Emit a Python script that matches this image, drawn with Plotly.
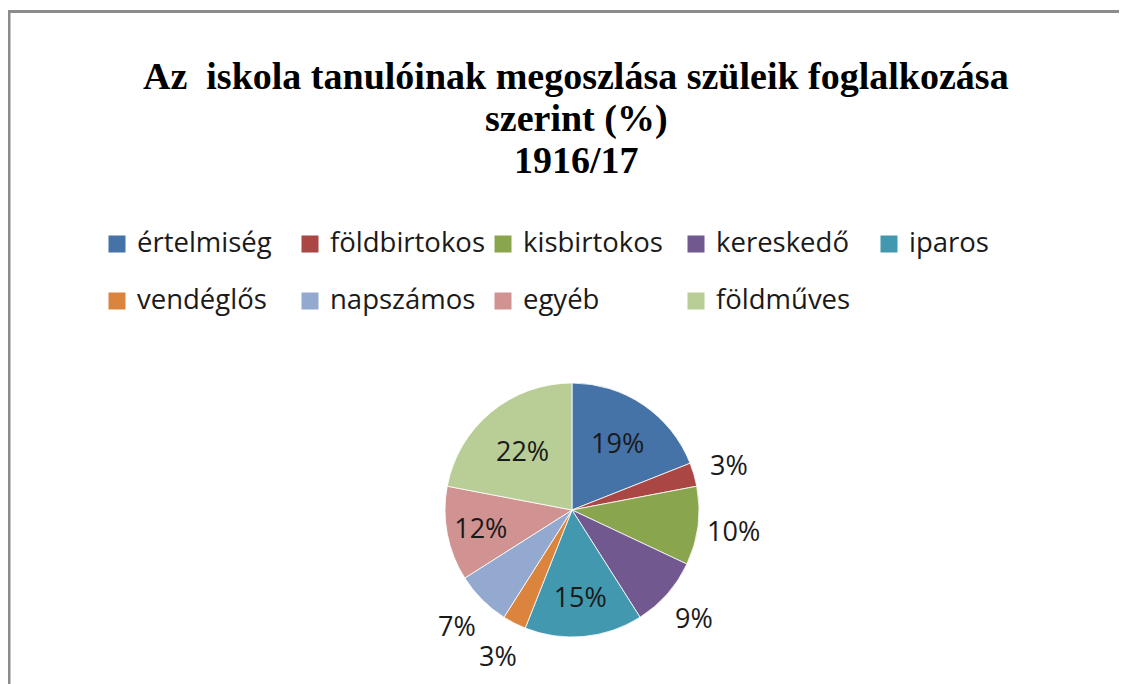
import math
import plotly.graph_objects as go

# ---- data ----
categories = ["értelmiség", "földbirtokos", "kisbirtokos", "kereskedő", "iparos",
              "vendéglős", "napszámos", "egyéb", "földműves"]
values = [19, 3, 10, 9, 15, 3, 7, 12, 22]
colors = ["#4572A7", "#AA4643", "#89A54E", "#71588F", "#4198AF",
          "#DB843D", "#93A9CF", "#D19392", "#B9CD96"]
label_inside = [True, False, False, False, True, False, False, True, True]
title_lines = ["Az  iskola tanulóinak megoszlása szüleik foglalkozása",
               "szerint (%)", "1916/17"]

# page has an 8px body margin; figure fills the rest of the window
OFF = 8
FW, FH = 1127 - OFF, 684 - OFF
SANS = "Open Sans, Lato, Liberation Sans, sans-serif"
SERIF = "Liberation Serif, Times New Roman, serif"
TXT = "#1a1a1a"

def px_x(xp):
    return (xp - OFF) / FW

def px_y(yp):
    return 1 - (yp - OFF) / FH

# pie geometry (page pixels)
CX, CY, R = 572, 510, 127

legend_labels = [f'<span style="font-size:27.5px">{c}</span><br> ' for c in categories]
positions = ["inside" if ins else "none" for ins in label_inside]

fig = go.Figure()
# legend-only twin of the pie (drawn at zero size), giving larger legend swatches
fig.add_trace(go.Pie(
    labels=legend_labels,
    values=values,
    sort=False,
    direction="clockwise",
    marker=dict(colors=colors, line=dict(color=colors, width=5)),
    textinfo="none",
    domain=dict(x=[px_x(CX), px_x(CX) + 0.0001], y=[px_y(CY), px_y(CY) + 0.0001]),
    hoverinfo="skip",
    showlegend=True,
))
# the visible pie
fig.add_trace(go.Pie(
    labels=legend_labels,
    values=values,
    sort=False,
    direction="clockwise",
    rotation=0,
    marker=dict(colors=colors, line=dict(color="rgba(255,255,255,0.8)", width=1)),
    textinfo="percent",
    textposition=positions,
    insidetextorientation="horizontal",
    textfont=dict(family=SANS, size=27, color=TXT),
    domain=dict(x=[px_x(CX - R), px_x(CX + R)], y=[px_y(CY + R), px_y(CY - R)]),
    hoverinfo="value+percent",
    showlegend=False,
))

# outside percentage labels, placed radially from each slice's mid-angle
total = sum(values)
cum = 0
for v, ins in zip(values, label_inside):
    mid = (cum + v / 2) / total * 2 * math.pi
    cum += v
    if ins:
        continue
    rl = R + 36
    lx = CX + rl * math.sin(mid)
    ly = CY - rl * math.cos(mid)
    fig.add_annotation(text=f"{round(v / total * 100)}%", xref="paper", yref="paper",
                       x=px_x(lx), y=px_y(ly), xanchor="center", yanchor="middle",
                       showarrow=False, font=dict(family=SANS, size=27, color=TXT))

# frame of the chart area
fig.add_shape(type="rect", xref="paper", yref="paper",
              x0=px_x(9), x1=px_x(1160), y0=px_y(11.5), y1=px_y(720),
              line=dict(color="#8c8c8c", width=3), fillcolor="rgba(0,0,0,0)", layer="below")

title_centers = [76, 118.5, 159.5]
for txt, yc in zip(title_lines, title_centers):
    fig.add_annotation(text=f"<b>{txt}</b>", xref="paper", yref="paper",
                       x=px_x(576), y=px_y(yc), xanchor="center", yanchor="middle",
                       showarrow=False, font=dict(family=SERIF, size=38, color="black"))

fig.update_layout(
    width=FW, height=FH,
    margin=dict(l=0, r=0, t=0, b=0),
    paper_bgcolor="white", plot_bgcolor="white",
    showlegend=True,
    legend=dict(orientation="h", x=px_x(97), xanchor="left",
                y=px_y(224), yanchor="top",
                entrywidth=148, entrywidthmode="pixels",
                valign="top", itemwidth=30,
                font=dict(family=SANS, size=20.8, color=TXT),
                bgcolor="rgba(0,0,0,0)"),
)

fig.write_html("out.html")
